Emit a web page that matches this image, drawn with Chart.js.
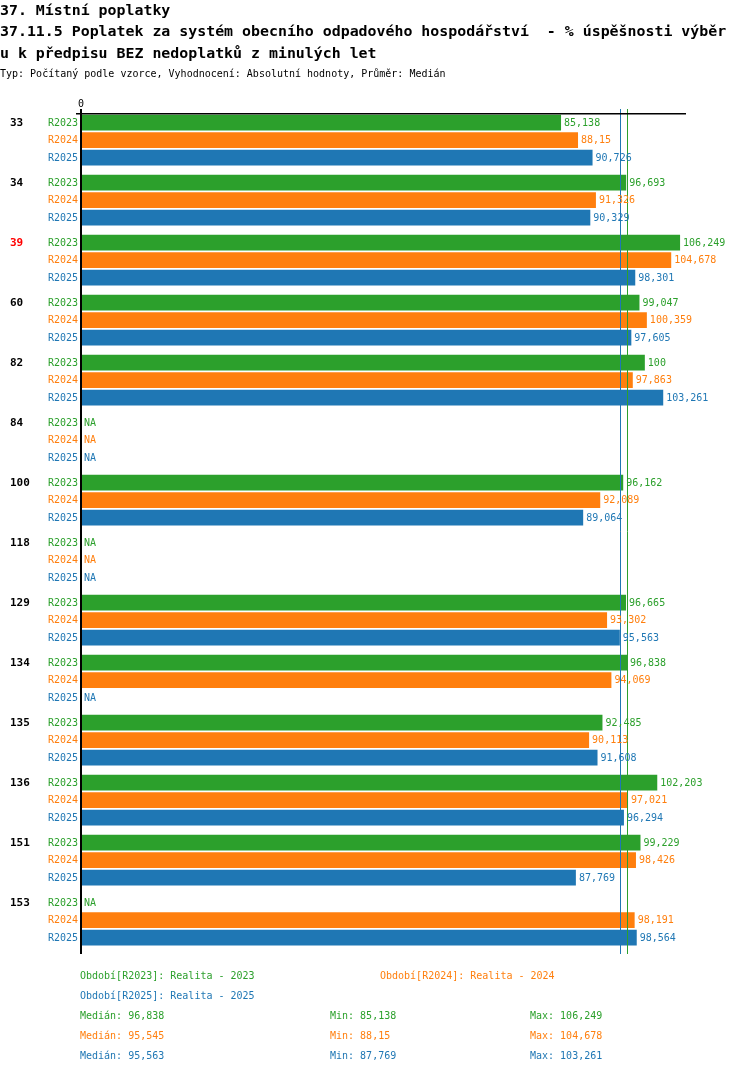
<!DOCTYPE html>
<html>
<head>
<meta charset="utf-8">
<script src="https://cdn.jsdelivr.net/npm/chart.js@4"></script>
<style>
  body { margin: 0; background: #fff; }
  #wrap { position: relative; width: 750px; height: 1074px; overflow: hidden; }
  #chart { position: absolute; left: 0; top: 0; }
  .t { position: absolute; white-space: pre; font-family: 'DejaVu Sans Mono', monospace; }
  .h { font-size: 14.9px; line-height: 15px; font-weight: bold; left: 0; }
  .s { font-size: 10px; line-height: 10px; }
</style>
</head>
<body>
<div id="wrap">
  <canvas id="chart" width="750" height="1074"></canvas>
  <div class="t h" style="top:3px">37. Místní poplatky</div>
  <div class="t h" style="top:24px">37.11.5 Poplatek za systém obecního odpadového hospodářství  - % úspěšnosti výběr</div>
  <div class="t h" style="top:46px">u k předpisu BEZ nedoplatků z minulých let</div>
  <div class="t s" style="top:69px;left:0">Typ: Počítaný podle vzorce, Vyhodnocení: Absolutní hodnoty, Průměr: Medián</div>
  <div id="legend"></div>
</div>
<script>
const categories = ['33', '34', '39', '60', '82', '84', '100', '118', '129', '134', '135', '136', '151', '153'];
const highlighted = ['39'];
const seriesNames = ['R2023', 'R2024', 'R2025'];
const seriesTitles = ['Realita - 2023', 'Realita - 2024', 'Realita - 2025'];
const seriesColors = ['#2ca02c', '#ff7f0e', '#1f77b4'];
const r2023 = [85.138, 96.693, 106.249, 99.047, 100, null, 96.162, null, 96.665, 96.838, 92.485, 102.203, 99.229, null];
const r2024 = [88.15, 91.326, 104.678, 100.359, 97.863, null, 92.089, null, 93.302, 94.069, 90.113, 97.021, 98.426, 98.191];
const r2025 = [90.726, 90.329, 98.301, 97.605, 103.261, null, 89.064, null, 95.563, null, 91.608, 96.294, 87.769, 98.564];
const series = [r2023, r2024, r2025];

const fmt = (v) => String(v).replace('.', ',');

function median(arr) {
  const s = arr.filter((v) => v !== null).sort((a, b) => a - b);
  const m = Math.floor(s.length / 2);
  return s.length % 2 ? s[m] : Math.round(((s[m - 1] + s[m]) / 2) * 1000) / 1000;
}
const stats = series.map((arr) => {
  const vals = arr.filter((v) => v !== null);
  return { med: median(arr), min: Math.min(...vals), max: Math.max(...vals) };
});

const MONO = "'DejaVu Sans Mono', monospace";

// labels, values, axis, median lines
const overlay = {
  id: 'overlay',
  afterDatasetsDraw(chart) {
    const { ctx, chartArea, scales } = chart;
    const x = scales.x;
    const x0 = x.getPixelForValue(0);
    ctx.save();

    // median lines (orange under blue)
    [1, 2, 0].forEach((i) => {
      const mx = Math.round(x.getPixelForValue(stats[i].med)) + 0.5;
      ctx.strokeStyle = seriesColors[i];
      ctx.lineWidth = 1;
      ctx.beginPath();
      ctx.moveTo(mx, chartArea.top - 1);
      ctx.lineTo(mx, chartArea.bottom + 4);
      ctx.stroke();
    });

    // top line + zero tick
    const first = chart.getDatasetMeta(0).data[0];
    const firstTop = first.y - first.height / 2 - 1;
    ctx.strokeStyle = '#000';
    ctx.lineWidth = 1.5;
    ctx.beginPath();
    ctx.moveTo(x0 - 5, firstTop);
    ctx.lineTo(x.getPixelForValue(x.max), firstTop);
    ctx.stroke();

    // left axis
    ctx.lineWidth = 2;
    ctx.beginPath();
    ctx.moveTo(x0, chartArea.top - 1);
    ctx.lineTo(x0, chartArea.bottom + 4);
    ctx.stroke();

    ctx.font = '10px ' + MONO;
    ctx.fillStyle = '#000';
    ctx.textAlign = 'center';
    ctx.textBaseline = 'alphabetic';
    ctx.fillText('0', x0, chartArea.top - 3);

    ctx.textBaseline = 'middle';
    series.forEach((arr, i) => {
      const meta = chart.getDatasetMeta(i);
      arr.forEach((v, j) => {
        const cy = meta.data[j].y + 0.5;
        ctx.fillStyle = seriesColors[i];
        ctx.font = '10px ' + MONO;
        ctx.textAlign = 'right';
        ctx.fillText(seriesNames[i], x0 - 3, cy);
        ctx.textAlign = 'left';
        if (v === null) {
          ctx.fillText('NA', x0 + 3, cy);
        } else {
          ctx.fillText(fmt(v), x.getPixelForValue(v) + 3, cy);
        }
        if (i === 0) {
          ctx.font = 'bold 11px ' + MONO;
          ctx.fillStyle = highlighted.includes(categories[j]) ? '#ff0000' : '#000';
          ctx.fillText(categories[j], 10, cy);
        }
      });
    });
    ctx.restore();
  },
};

new Chart(document.getElementById('chart'), {
  type: 'bar',
  data: {
    labels: categories,
    datasets: series.map((arr, i) => ({
      label: seriesNames[i],
      data: arr,
      backgroundColor: seriesColors[i],
      borderWidth: 0,
      barPercentage: 0.9,
      categoryPercentage: 0.875,
    })),
  },
  options: {
    indexAxis: 'y',
    responsive: false,
    animation: false,
    layout: { padding: { left: 81, right: 64, top: 110, bottom: 124 } },
    scales: {
      x: { display: false, min: 0, max: 107.3 },
      y: { display: false },
    },
    plugins: { legend: { display: false }, tooltip: { enabled: false } },
  },
  plugins: [overlay],
});

// legend and stats below the chart
const legend = document.getElementById('legend');
function addText(txt, left, top, color) {
  const d = document.createElement('div');
  d.className = 't s';
  d.style.left = left + 'px';
  d.style.top = top + 'px';
  d.style.color = color;
  d.textContent = txt;
  legend.appendChild(d);
}
addText('Období[' + seriesNames[0] + ']: ' + seriesTitles[0], 80, 971, seriesColors[0]);
addText('Období[' + seriesNames[1] + ']: ' + seriesTitles[1], 380, 971, seriesColors[1]);
addText('Období[' + seriesNames[2] + ']: ' + seriesTitles[2], 80, 991, seriesColors[2]);
stats.forEach((s, i) => {
  const top = 1011 + i * 20;
  addText('Medián: ' + fmt(s.med), 80, top, seriesColors[i]);
  addText('Min: ' + fmt(s.min), 330, top, seriesColors[i]);
  addText('Max: ' + fmt(s.max), 530, top, seriesColors[i]);
});
</script>
</body>
</html>
